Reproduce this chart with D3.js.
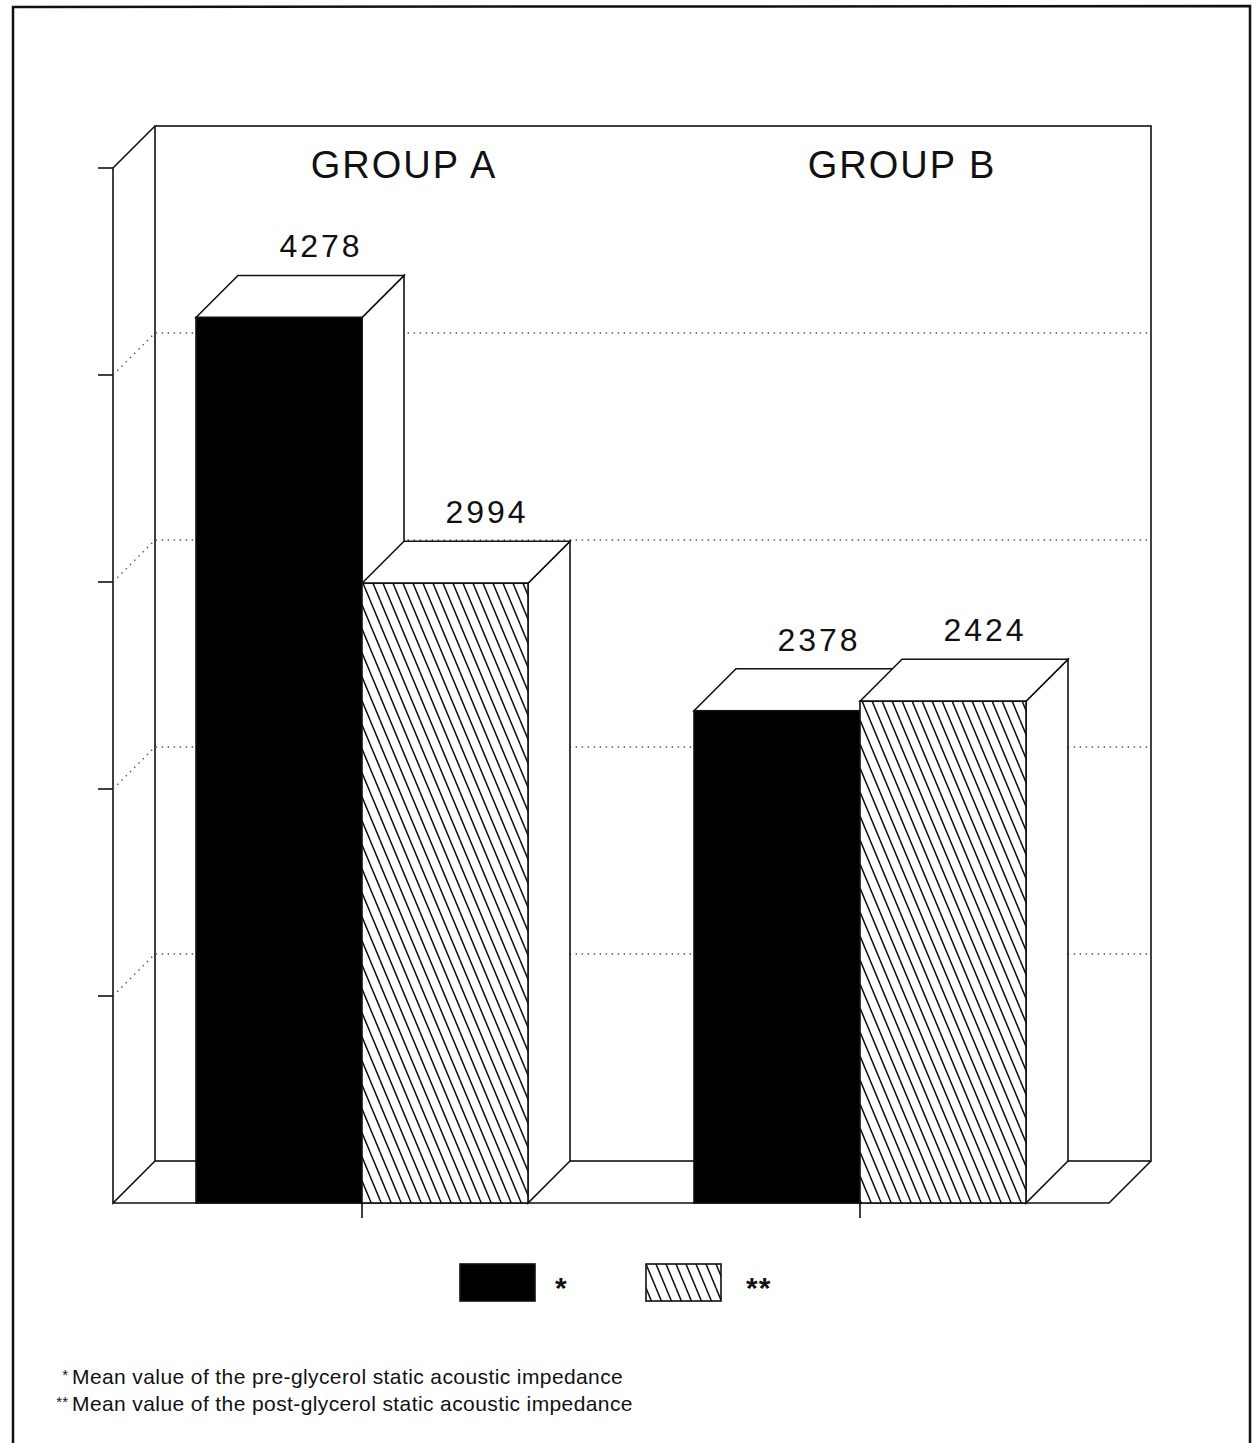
<!DOCTYPE html>
<html>
<head>
<meta charset="utf-8">
<script src="https://cdn.jsdelivr.net/npm/d3@7"></script>
<style>
  body { margin: 0; background: #fff; }
  svg text { font-family: "Liberation Sans", Arial, sans-serif; fill: #111; }
</style>
</head>
<body>
<div id="chart"></div>
<script>
var width  = 1257;
var height = 1443;

// data
var groups = ["GROUP A", "GROUP B"];
var series = ["*", "**"];
var preValues  = [4278, 2378];
var postValues = [2994, 2424];
var yTicks = [1000, 2000, 3000, 4000, 5000];
var footnotes = [
  ["*",  "Mean value of the pre-glycerol static acoustic impedance"],
  ["**", "Mean value of the post-glycerol static acoustic impedance"]
];

// 3d depth offset of the box
var depth = 42;

var plotLeft = 113, plotRight = 1109, plotBase = 1203, plotTop = 168;

var y = d3.scaleLinear().domain([0, 5000]).range([plotBase, plotTop]);
var x0 = d3.scaleBand().domain(groups).range([plotLeft, plotRight]).paddingInner(0).paddingOuter(0);
var x1 = d3.scaleBand().domain(series).range([0, x0.bandwidth()]).paddingInner(0).paddingOuter(0.5);

var svg = d3.select("#chart").append("svg")
  .attr("width", width)
  .attr("height", height);

var defs = svg.append("defs");
var hatch = defs.append("pattern")
  .attr("id", "hatch")
  .attr("patternUnits", "userSpaceOnUse")
  .attr("width", 10)
  .attr("height", 24);
hatch.append("rect").attr("width", 10).attr("height", 24).attr("fill", "#fff");
hatch.append("path")
  .attr("d", "M0,0 L10,24 M-10,0 L0,24 M10,0 L20,24")
  .attr("stroke", "#111")
  .attr("stroke-width", 1.5);

// outer frame of the figure
svg.append("path")
  .attr("d", "M13," + height + " L13,7 L1250,6 L1250," + height)
  .attr("fill", "none")
  .attr("stroke", "#111")
  .attr("stroke-width", 2.5);

var g = svg.append("g")
  .attr("fill", "none")
  .attr("stroke", "#111")
  .attr("stroke-width", 1.6);

// back wall
g.append("rect")
  .attr("x", plotLeft + depth).attr("y", plotTop - depth)
  .attr("width", plotRight - plotLeft).attr("height", plotBase - plotTop);

// left side wall + floor
g.append("path").attr("d",
  "M" + plotLeft + "," + plotTop + " L" + (plotLeft + depth) + "," + (plotTop - depth) +
  " M" + plotLeft + "," + plotTop + " L" + plotLeft + "," + plotBase +
  " L" + (plotLeft + depth) + "," + (plotBase - depth) +
  " M" + plotLeft + "," + plotBase + " L" + plotRight + "," + plotBase +
  " L" + (plotRight + depth) + "," + (plotBase - depth));

// dotted gridlines
var grid = g.append("g")
  .attr("stroke", "#555")
  .attr("stroke-width", 1.4)
  .attr("stroke-dasharray", "1.5,4.5");
yTicks.filter(t => t < 5000).forEach(function(t) {
  grid.append("path").attr("d",
    "M" + plotLeft + "," + y(t) + " L" + (plotLeft + depth) + "," + (y(t) - depth) +
    " L" + (plotRight + depth) + "," + (y(t) - depth));
});

// value axis ticks
g.selectAll(".ytick").data(yTicks).enter().append("line")
  .attr("class", "ytick")
  .attr("x1", plotLeft - 15).attr("x2", plotLeft)
  .attr("y1", d => y(d)).attr("y2", d => y(d));

// category ticks
g.selectAll(".xtick").data(groups).enter().append("line")
  .attr("class", "xtick")
  .attr("x1", d => x0(d) + x0.bandwidth() / 2)
  .attr("x2", d => x0(d) + x0.bandwidth() / 2)
  .attr("y1", plotBase).attr("y2", plotBase + 15);

// bars
var bars = [];
groups.forEach(function(grp, i) {
  bars.push({ group: grp, key: "*",  value: preValues[i] });
  bars.push({ group: grp, key: "**", value: postValues[i] });
});

var barG = svg.append("g").attr("stroke", "#111").attr("stroke-width", 1.6);
bars.forEach(function(d) {
  var bx = x0(d.group) + x1(d.key);
  var bw = x1.bandwidth();
  var by = y(d.value);
  var b = barG.append("g");
  // side face
  b.append("path").attr("fill", "#fff").attr("d",
    "M" + (bx + bw) + "," + by + " L" + (bx + bw + depth) + "," + (by - depth) +
    " L" + (bx + bw + depth) + "," + (plotBase - depth) + " L" + (bx + bw) + "," + plotBase + "Z");
  // top face
  b.append("path").attr("fill", "#fff").attr("d",
    "M" + bx + "," + by + " L" + (bx + depth) + "," + (by - depth) +
    " L" + (bx + bw + depth) + "," + (by - depth) + " L" + (bx + bw) + "," + by + "Z");
  // front face
  b.append("rect")
    .attr("x", bx).attr("y", by)
    .attr("width", bw).attr("height", plotBase - by)
    .attr("fill", d.key === "*" ? "#000" : "url(#hatch)");
  // value label
  svg.append("text")
    .attr("x", bx + bw / 2 + depth)
    .attr("y", by - depth - 18)
    .attr("text-anchor", "middle")
    .attr("font-size", 32)
    .attr("letter-spacing", 3)
    .text(d.value);
});

// group titles
svg.selectAll(".gtitle").data(groups).enter().append("text")
  .attr("class", "gtitle")
  .attr("x", d => x0(d) + x0.bandwidth() / 2 + depth)
  .attr("y", 178)
  .attr("text-anchor", "middle")
  .attr("font-size", 38)
  .attr("letter-spacing", 2)
  .text(d => d);

// legend
var legendX = [460, 646];
var legend = svg.selectAll(".legend").data(series).enter().append("g")
  .attr("class", "legend")
  .attr("transform", (d, i) => "translate(" + legendX[i] + ",1264)");
legend.append("rect")
  .attr("width", 75).attr("height", 37)
  .attr("fill", d => d === "*" ? "#000" : "url(#hatch)")
  .attr("stroke", "#111").attr("stroke-width", 1.6);
legend.append("text")
  .attr("x", d => d === "*" ? 95 : 100)
  .attr("y", 34)
  .attr("font-size", 30)
  .attr("font-weight", "bold")
  .attr("letter-spacing", 1)
  .text(d => d);

// footnotes
var notes = svg.selectAll(".note").data(footnotes).enter().append("g")
  .attr("class", "note")
  .attr("transform", (d, i) => "translate(72," + (1384 + i * 27) + ")");
notes.append("text")
  .attr("x", -4).attr("y", -4)
  .attr("text-anchor", "end")
  .attr("font-size", 15)
  .text(d => d[0]);
notes.append("text")
  .attr("font-size", 21)
  .attr("letter-spacing", 0.4)
  .text(d => d[1]);
</script>
</body>
</html>
